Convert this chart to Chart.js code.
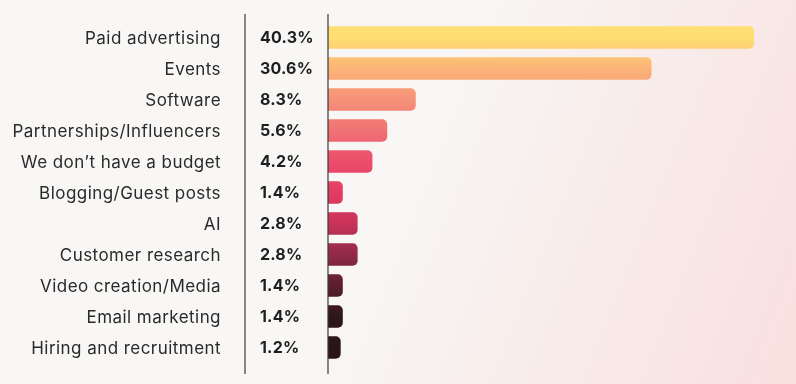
<!DOCTYPE html>
<html>
<head>
<meta charset="utf-8">
<script src="https://cdn.jsdelivr.net/npm/chart.js@4.4.1/dist/chart.umd.min.js"></script>
<style>
  html, body { margin: 0; padding: 0; }
  body {
    width: 796px; height: 384px; overflow: hidden;
    background: linear-gradient(112deg, #f8f7f5 48%, #f8ecea 72%, #f9e0df 100%);
  }
  #wrap { position: relative; width: 796px; height: 384px; }
</style>
</head>
<body>
<div id="wrap"><canvas id="budgetChart"></canvas></div>
<script>
const categories = [
    'Paid advertising', 'Events', 'Software', 'Partnerships/Influencers',
    'We don\u2019t have a budget', 'Blogging/Guest posts', 'AI', 'Customer research',
    'Video creation/Media', 'Email marketing', 'Hiring and recruitment'
];
const shares = [40.3, 30.6, 8.3, 5.6, 4.2, 1.4, 2.8, 2.8, 1.4, 1.4, 1.2];
const shareLabels = ['40.3%', '30.6%', '8.3%', '5.6%', '4.2%', '1.4%', '2.8%', '2.8%', '1.4%', '1.4%', '1.2%'];
const barColors = [
    '#ffdf74', '#fcb377', '#f69279', '#f07274', '#eb4d6b', '#e43c64',
    '#c93359', '#912a49', '#5a1d2e', '#2e171c', '#2a1418'
];

const FONT = 'Inter, "Open Sans", sans-serif';

// one vertical gradient over the whole bar area, so each bar picks its own shade
function barGradient(context) {
    const chart = context.chart;
    const { ctx, chartArea, scales } = chart;
    if (!chartArea) return barColors[0];
    const top = scales.y.getPixelForValue(0);
    const bottom = scales.y.getPixelForValue(categories.length - 1);
    const g = ctx.createLinearGradient(0, top, 0, bottom);
    barColors.forEach((c, i) => g.addColorStop(i / (barColors.length - 1), c));
    return g;
}

// category names, separator lines and the bold percentage column
const sidePlugin = {
    id: 'sideColumn',
    afterDraw(chart) {
        const { ctx, chartArea, scales } = chart;
        const lineTop = chartArea.top - 8;
        const lineBottom = chartArea.bottom + 11;
        ctx.save();
        ctx.strokeStyle = '#3a3a3a';
        ctx.lineWidth = 1.2;
        [chartArea.left - 83, chartArea.left].forEach(x => {
            ctx.beginPath();
            ctx.moveTo(x, lineTop);
            ctx.lineTo(x, lineBottom);
            ctx.stroke();
        });
        ctx.textBaseline = 'middle';

        ctx.fillStyle = '#2a2a2a';
        ctx.font = '17px ' + FONT;
        ctx.letterSpacing = '0.45px';
        ctx.textAlign = 'right';
        categories.forEach((t, i) => {
            ctx.fillText(t, chartArea.left - 107, scales.y.getPixelForValue(i) + 1);
        });

        ctx.fillStyle = '#1e1e1e';
        ctx.font = 'bold 16px ' + FONT;
        ctx.letterSpacing = '0.2px';
        ctx.textAlign = 'left';
        shareLabels.forEach((t, i) => {
            ctx.fillText(t, chartArea.left - 68, scales.y.getPixelForValue(i) + 1);
        });
        ctx.restore();
    }
};

new Chart(document.getElementById('budgetChart'), {
    type: 'bar',
    data: {
        labels: categories,
        datasets: [{
            data: shares,
            backgroundColor: barGradient,
            borderRadius: 5,
            borderSkipped: 'start',
            barPercentage: 0.72,
            categoryPercentage: 1
        }]
    },
    options: {
        indexAxis: 'y',
        responsive: true,
        maintainAspectRatio: false,
        animation: false,
        layout: { padding: { top: 22, bottom: 21, right: 24, left: 0 } },
        plugins: {
            legend: { display: false },
            tooltip: { enabled: false }
        },
        scales: {
            x: {
                min: 0,
                max: 42,
                display: false
            },
            y: {
                grid: { display: false },
                border: { display: false },
                ticks: { display: false },
                afterFit(scale) { scale.width = 328; }
            }
        }
    },
    plugins: [sidePlugin]
});
</script>
</body>
</html>
